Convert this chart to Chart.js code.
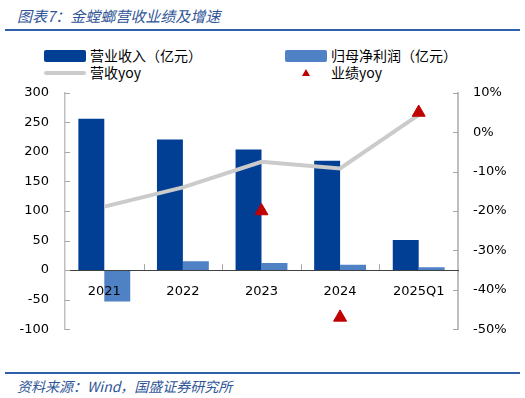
<!DOCTYPE html>
<html>
<head>
<meta charset="utf-8">
<script src="https://cdn.jsdelivr.net/npm/chart.js@4"></script>
<style>
  body { margin: 0; width: 525px; height: 398px; background: #fff; position: relative; overflow: hidden;
         font-family: "DejaVu Sans", "Noto Sans CJK SC", sans-serif; }
  .title { position: absolute; left: 17px; top: 5px; font-size: 15px; font-style: italic; color: #2F5597;
           font-family: "Noto Sans CJK SC", sans-serif; }
  .rule { position: absolute; left: 5px; width: 515px; height: 2px; background: #2F5FA8; }
  .source { position: absolute; left: 17px; top: 376px; font-size: 14px; font-style: italic; color: #2F5597;
            font-family: "Noto Sans CJK SC", sans-serif; }
  .legend { position: absolute; font-size: 14px; color: #000; font-family: "Noto Sans CJK SC", sans-serif;
            line-height: 17px; }
  .swatch { position: absolute; width: 42px; height: 12px; border-radius: 2px; }
  .gline { position: absolute; width: 42px; height: 4px; background: #CBCBCB; border-radius: 2px; }
  .tri { position: absolute; width: 0; height: 0; border-left: 4px solid transparent; border-right: 4px solid transparent;
         border-bottom: 7px solid #C00000; }
  #wrap { position: absolute; left: 0; top: 69px; width: 525px; height: 284px; }
</style>
</head>
<body>
<div class="title">图表7：金螳螂营收业绩及增速</div>
<div class="rule" style="top:29px"></div>

<div class="swatch" style="left:44px;top:50px;background:#003F94"></div>
<div class="legend" style="left:90px;top:47px">营业收入（亿元）</div>
<div class="swatch" style="left:285px;top:50px;background:#4F81C5"></div>
<div class="legend" style="left:331px;top:47px">归母净利润（亿元）</div>
<div class="gline" style="left:44px;top:71px"></div>
<div class="legend" style="left:90px;top:64px">营收yoy</div>
<div class="tri" style="left:302px;top:69px"></div>
<div class="legend" style="left:331px;top:64px">业绩yoy</div>

<div id="wrap"><canvas id="chart"></canvas></div>

<div class="rule" style="top:372px"></div>
<div class="source">资料来源：Wind，国盛证券研究所</div>

<script>
// data
const years = ["2021", "2022", "2023", "2024", "2025Q1"];
const revenue = [256, 221, 204, 185, 51];
const netProfit = [-53, 15, 12, 9, 5];
const revenueYoy = [-18.9, -14.0, -7.5, -9.2, 4.4];
const profitYoy = [null, null, -20.0, -47.0, 5.0];
const leftTicks = { min: -100, max: 300, step: 50 };
const rightTicks = { min: -50, max: 10, step: 10 };

const tickFont = { family: "DejaVu Sans", size: 13 };
Chart.defaults.color = "#000";

// tick marks pointing into the plot, like the original
const innerTicks = {
  id: "innerTicks",
  afterDraw(chart) {
    const ctx = chart.ctx;
    const { x, y, y1 } = chart.scales;
    ctx.save();
    ctx.lineWidth = 1;
    ctx.strokeStyle = "#A6A6A6";
    ctx.beginPath();
    y.ticks.forEach((t, i) => {
      const py = Math.round(y.getPixelForTick(i)) + 0.5;
      ctx.moveTo(y.right, py);
      ctx.lineTo(y.right + 5, py);
    });
    y1.ticks.forEach((t, i) => {
      const py = Math.round(y1.getPixelForTick(i)) + 0.5;
      ctx.moveTo(y1.left, py);
      ctx.lineTo(y1.left - 5, py);
    });
    const zero = y.getPixelForValue(0);
    for (let i = 1; i < years.length; i++) {
      const px = Math.round((x.getPixelForTick(i - 1) + x.getPixelForTick(i)) / 2) + 0.5;
      ctx.moveTo(px, zero);
      ctx.lineTo(px, zero - 6);
    }
    ctx.stroke();
    ctx.restore();
  },
};

new Chart(document.getElementById("chart"), {
  type: "bar",
  data: {
    labels: years,
    datasets: [
      {
        type: "line",
        label: "业绩yoy",
        data: profitYoy,
        yAxisID: "y1",
        showLine: false,
        pointStyle: "triangle",
        pointRadius: 7.5,
        pointBackgroundColor: "#C00000",
        pointBorderColor: "#C00000",
        order: 0,
      },
      {
        type: "line",
        label: "营收yoy",
        data: revenueYoy,
        yAxisID: "y1",
        borderColor: "#CBCBCB",
        borderWidth: 4,
        pointRadius: 0,
        tension: 0,
        order: 1,
      },
      {
        label: "营业收入（亿元）",
        data: revenue,
        yAxisID: "y",
        backgroundColor: "#003F94",
        barPercentage: 1,
        categoryPercentage: 0.66,
        order: 2,
      },
      {
        label: "归母净利润（亿元）",
        data: netProfit,
        yAxisID: "y",
        backgroundColor: "#4F81C5",
        barPercentage: 1,
        categoryPercentage: 0.66,
        order: 2,
      },
    ],
  },
  options: {
    responsive: true,
    maintainAspectRatio: false,
    animation: false,
    layout: { padding: 0 },
    plugins: {
      legend: { display: false },
      tooltip: { enabled: false },
    },
    scales: {
      x: {
        position: { y: 0 },
        offset: true,
        grid: { offset: true, drawOnChartArea: false, tickLength: 6, color: "rgba(0,0,0,0)", z: 1 },
        border: { color: "#404040", width: 1, z: 1 },
        ticks: { font: tickFont, padding: 8, z: 1 },
      },
      y: {
        position: "left",
        min: leftTicks.min,
        max: leftTicks.max,
        ticks: { stepSize: leftTicks.step, font: tickFont, padding: 16 },
        grid: { display: false, drawTicks: false },
        border: { color: "#BFBFBF", width: 1.5 },
        afterFit: (scale) => { scale.width = 65; },
      },
      y1: {
        position: "right",
        min: rightTicks.min,
        max: rightTicks.max,
        ticks: { stepSize: rightTicks.step, font: tickFont, padding: 15, callback: (v) => v + "%" },
        grid: { display: false, drawTicks: false },
        border: { color: "#BFBFBF", width: 2 },
        afterFit: (scale) => { scale.width = 67; },
      },
    },
  },
  plugins: [innerTicks],
});
</script>
</body>
</html>
